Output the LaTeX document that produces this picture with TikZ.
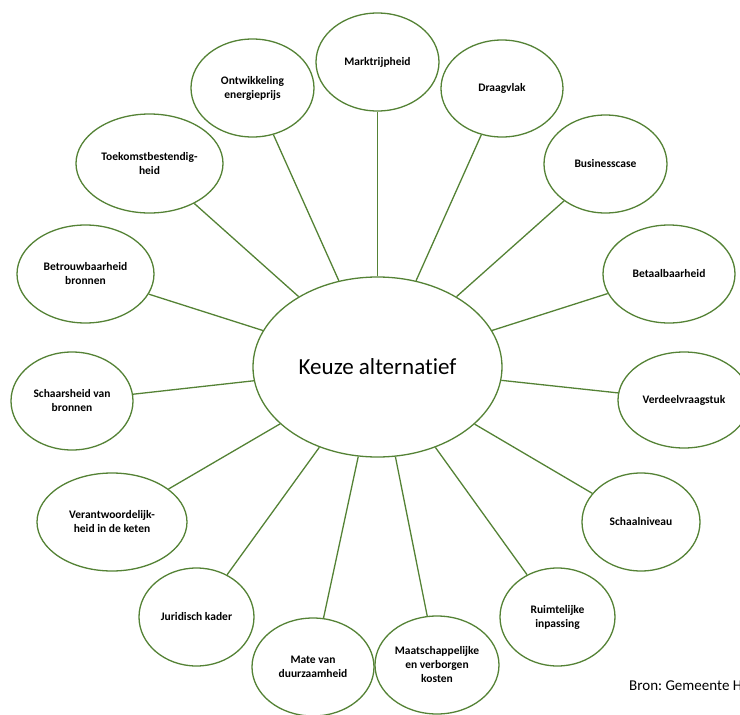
\documentclass[tikz,border=0pt]{standalone}
\usepackage{fontspec}
\setmainfont[Ligatures={NoCommon}]{Carlito}
\usetikzlibrary{shapes.geometric}
\definecolor{lgreen}{HTML}{548235}
\begin{document}
\frenchspacing
\begin{tikzpicture}[x=1pt,y=-1pt,
  bub/.style={ellipse, draw=lgreen, line width=1.3pt, fill=white, inner sep=0pt, align=center,
    font=\fontsize{11.5}{14}\selectfont\bfseries},
  link/.style={draw=lgreen, line width=1.3pt}]
\useasboundingbox (0,0) rectangle (740,715);

\node[bub, minimum width=249pt, minimum height=180pt, font=\fontsize{23}{27}\selectfont] (c) at (377.5,367) {Keuze alternatief};

\node[bub, minimum width=123pt, minimum height=98pt] (n1) at (377.5,62) {Marktrijpheid};
\node[bub, minimum width=122pt, minimum height=97pt] (n2) at (502,88.5) {Draagvlak};
\node[bub, minimum width=123pt, minimum height=98pt] (n3) at (605.5,164) {Businesscase};
\node[bub, minimum width=132pt, minimum height=98pt] (n4) at (669,274) {Betaalbaarheid};
\node[bub, minimum width=132pt, minimum height=96pt] (n5) at (684,400) {Verdeelvraagstuk};
\node[bub, minimum width=118pt, minimum height=98pt] (n6) at (641,522) {Schaalniveau};
\node[bub, minimum width=115pt, minimum height=98pt] (n7) at (557.5,617) {Ruimtelijke\\inpassing};
\node[bub, minimum width=124pt, minimum height=98pt] (n8) at (437,665) {Maatschappelijke\\en verborgen\\kosten};
\node[bub, minimum width=122pt, minimum height=98pt] (n9) at (313,667) {Mate van\\duurzaamheid};
\node[bub, minimum width=115pt, minimum height=98pt] (n10) at (196.5,617) {Juridisch kader};
\node[bub, minimum width=150pt, minimum height=98pt] (n11) at (112,522) {Verantwoordelijk-\\heid in de keten};
\node[bub, minimum width=122pt, minimum height=98pt] (n12) at (72,401) {Schaarsheid van\\bronnen};
\node[bub, minimum width=137pt, minimum height=98pt] (n13) at (85.5,274) {Betrouwbaarheid\\bronnen};
\node[bub, minimum width=147pt, minimum height=99pt] (n14) at (149.5,163.5) {Toekomstbestendig-\\heid};
\node[bub, minimum width=123pt, minimum height=98pt] (n15) at (252.5,88) {Ontwikkeling\\energieprijs};

\foreach \n in {n1,n2,n3,n4,n5,n6,n7,n8,n9,n10,n11,n12,n13,n14,n15}
  \draw[link] (c) -- (\n);

\node[anchor=base west, inner sep=0pt, font=\fontsize{15}{18}\selectfont] (src) at (629,690) {Bron: Gemeente H};
\end{tikzpicture}
\end{document}
